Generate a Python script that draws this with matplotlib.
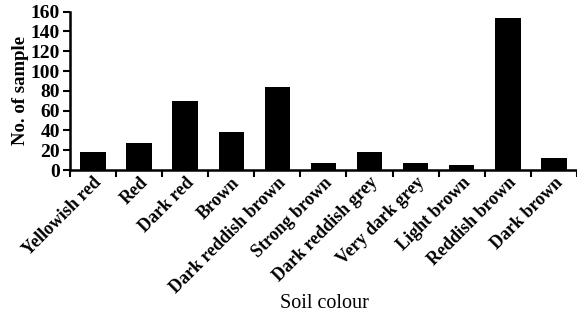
import matplotlib
matplotlib.use("Agg")
import matplotlib.pyplot as plt
import matplotlib.transforms as mtransforms
import numpy as np

categories = ["Yellowish red", "Red", "Dark red", "Brown", "Dark reddish brown",
              "Strong brown", "Dark reddish grey", "Very dark grey", "Light brown",
              "Reddish brown", "Dark brown"]
values = [18, 27, 70, 38, 84, 7, 18, 7, 5, 154, 12]
yticks = [0, 20, 40, 60, 80, 100, 120, 140, 160]

plt.rcParams['font.family'] = ['Liberation Serif', 'DejaVu Serif']

fig = plt.figure(figsize=(5.77, 3.16), dpi=100)
ax = fig.add_axes([0.121, 0.462, 0.879, 0.501])

x = np.arange(len(categories))
ax.bar(x, values, width=0.55, color='black')

ax.set_xlim(-0.5, len(categories) - 0.5)
ax.set_ylim(0, 160)
ax.set_yticks(yticks)
ax.set_yticklabels([str(v) for v in yticks], fontsize=14, fontweight='bold')

ax.set_xticks(np.arange(len(categories) + 1) - 0.5)
ax.set_xticklabels([])
ax.set_xticks(x, minor=True)
labels = ax.set_xticklabels(categories, minor=True, rotation=45, ha='right',
                            rotation_mode='anchor', fontsize=13, fontweight='bold')
offset = mtransforms.ScaledTranslation(6 / 100, 0, fig.dpi_scale_trans)
for lab in labels:
    lab.set_transform(lab.get_transform() + offset)
ax.tick_params(axis='x', which='minor', length=0, pad=3)
ax.tick_params(axis='x', which='major', length=5, width=1.5, direction='out')
ax.tick_params(axis='y', length=5, width=1.5, direction='out', pad=2)

for s in ['top', 'right']:
    ax.spines[s].set_visible(False)
for s in ['left', 'bottom']:
    ax.spines[s].set_linewidth(1.8)

ax.set_ylabel("No. of sample", fontsize=13.5, fontweight='bold', labelpad=1)
fig.text(0.562, 0.041, "Soil colour", fontsize=14.5, ha='center', va='center')

fig.savefig("out.png", dpi=100)
